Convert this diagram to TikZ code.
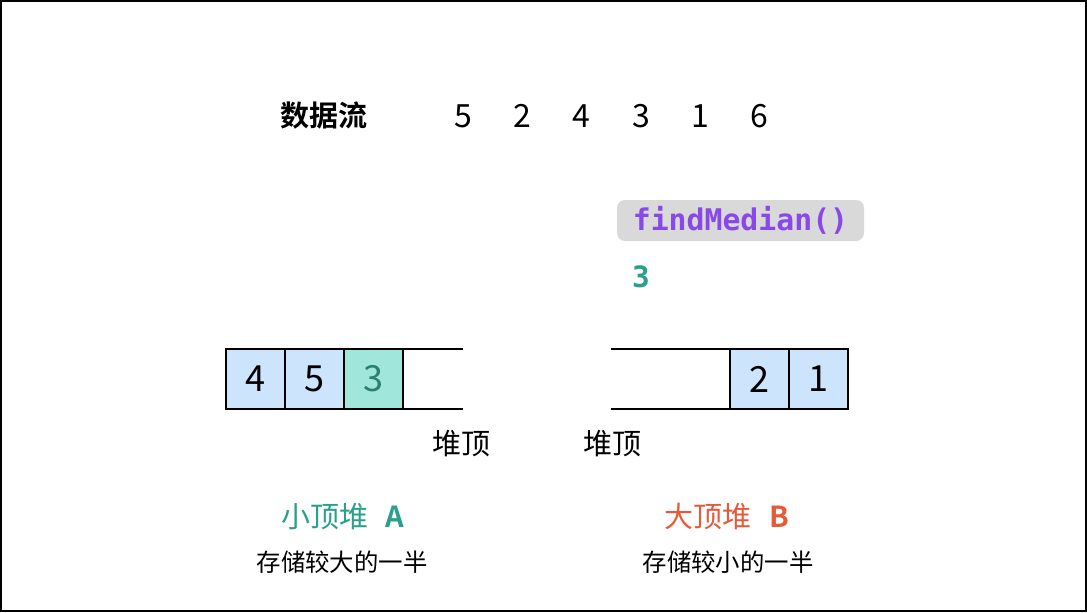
\documentclass[tikz,border=0pt]{standalone}
\usepackage{fontspec}
\setmainfont{Noto Sans CJK SC}[BoldFont={Noto Sans CJK SC Bold}]
\newfontfamily\codefont{DejaVu Sans Mono}
\usepackage{xcolor}
\definecolor{cellblue}{RGB}{204,228,252}
\definecolor{cellgreen}{RGB}{160,230,218}
\definecolor{topteal}{RGB}{42,128,110}
\definecolor{heapteal}{RGB}{42,160,140}
\definecolor{heapred}{RGB}{230,90,58}
\definecolor{codepurple}{RGB}{137,72,232}
\definecolor{codegray}{RGB}{217,217,217}
\usetikzlibrary{positioning}

\begin{document}
\begin{tikzpicture}[x=0.5pt, y=-0.5pt,
    cell/.style={draw=black, line width=1pt, minimum width=29.5pt, outer sep=0pt,
                 minimum height=30pt, inner sep=0pt, font=\fontsize{18}{18}\selectfont},
    gap/.style={minimum height=30pt, inner sep=0pt, outer sep=0pt},
    label/.style={font=\fontsize{14.5}{14.5}\selectfont},
    note/.style={font=\fontsize{12.2}{12.2}\selectfont},
    num/.style={font=\fontsize{16}{16}\selectfont}]
  \useasboundingbox (0,0) rectangle (1087,612);
  \draw[line width=1pt] (1,1) rectangle (1086,611);

  % data stream
  \node[label, font=\fontsize{14.5}{14.5}\selectfont\bfseries] (stream) at (324,116) {数据流};
  \foreach \v [count=\i] in {5,2,4,3,1,6}
    \node[num] (s\i) at (463+59.3*\i-59.3,116) {\v};

  % findMedian() call and result
  \node[fill=codegray, rounded corners=4pt, minimum width=123.5pt, minimum height=20.5pt,
        inner sep=0pt, text=codepurple, font=\codefont\fontsize{14.9}{14.9}\selectfont\bfseries]
        (call) at (740.5,220.5) {findMedian()};
  \node[text=heapteal, font=\codefont\fontsize{14.7}{14.7}\selectfont\bfseries]
        (result) at (641,277) {3};

  % heap A
  \node[cell, fill=cellblue] (a1) at (255,379) {4};
  \node[cell, fill=cellblue, right=0pt of a1] (a2) {5};
  \node[cell, fill=cellgreen, text=topteal, right=0pt of a2] (a3) {3};
  \node[gap, minimum width=30pt, right=0pt of a3] (a4) {};
  \draw[line width=1pt] (a4.north west) -- (a4.north east);
  \draw[line width=1pt] (a4.south west) -- (a4.south east);
  \node[label] (atop) at (461,444) {堆顶};

  % heap B
  \node[gap, minimum width=59.5pt] (b0) at (670.5,379) {};
  \node[cell, fill=cellblue, right=0pt of b0] (b1) {2};
  \node[cell, fill=cellblue, right=0pt of b1] (b2) {1};
  \draw[line width=1pt] (b0.north west) -- (b0.north east);
  \draw[line width=1pt] (b0.south west) -- (b0.south east);
  \node[label] (btop) at (612,444) {堆顶};

  % captions
  \node[label, text=heapteal] (aname) at (343,517) {小顶堆\hspace{0.6em}\textbf{A}};
  \node[note] (adesc) at (342,562) {存储较大的一半};
  \node[label, text=heapred] (bname) at (727,517) {大顶堆\hspace{0.6em}\textbf{B}};
  \node[note] (bdesc) at (728,562) {存储较小的一半};
\end{tikzpicture}
\end{document}
